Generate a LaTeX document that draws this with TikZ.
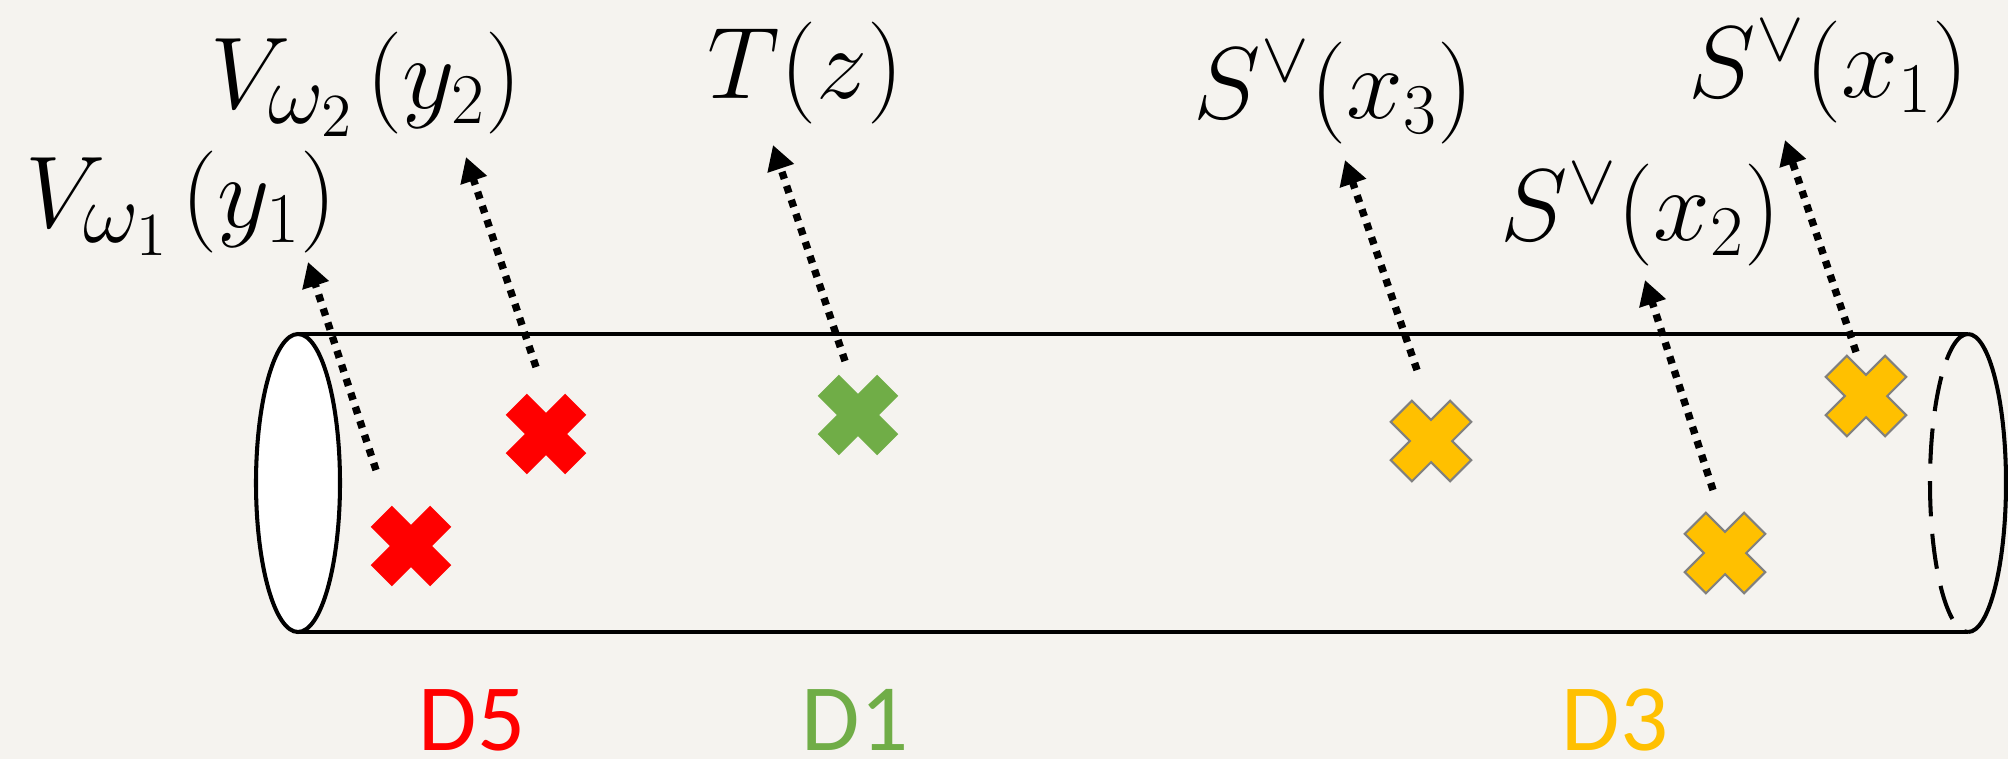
\documentclass[tikz,border=0pt]{standalone}
\usepackage{fix-cm}
\usepackage{fontspec}
\newfontfamily\calibri{Carlito}
\usetikzlibrary{arrows.meta}

\definecolor{paper}{RGB}{245,243,239}
\definecolor{dred}{RGB}{255,0,0}
\definecolor{dgreen}{RGB}{112,173,71}
\definecolor{dgold}{RGB}{255,192,0}
\definecolor{xedge}{RGB}{128,128,128}

\begin{document}
\begin{tikzpicture}[
    x=0.01cm, y=-0.01cm,
    lbl/.style={inner sep=0pt, anchor=base west, font=\fontsize{29}{35}\selectfont},
    dlbl/.style={inner sep=0pt, anchor=base, font=\calibri\fontsize{27}{32}\selectfont},
    pointer/.style={-{Triangle[length=7pt, width=7.5pt]}, line width=2.1pt,
                    dash pattern=on 2.1pt off 2.1pt},
    tube/.style={line width=1.15pt},
    xmark/.pic={\path[pic actions, rotate=45] (15,42) -- (15,15) -- (42,15) -- (42,-15)
        -- (15,-15) -- (15,-42) -- (-15,-42) -- (-15,-15) -- (-42,-15) -- (-42,15)
        -- (-15,15) -- (-15,42) -- cycle;}
]
\fill[paper] (0,0) rectangle (2008,759);
\useasboundingbox (0,0) rectangle (2008,759);

% the tube
\draw[tube] (298,334) -- (1968,334);
\draw[tube] (298,632) -- (1968,632);
\draw[tube, fill=white] (298,483) ellipse [x radius=42, y radius=149];
\draw[tube] (1968,334) arc[start angle=-90, end angle=90, x radius=38, y radius=149];
\draw[tube, dash pattern=on 10pt off 5pt] (1968,334) arc[start angle=-90, end angle=-270, x radius=38, y radius=149];

% operators
\node[lbl] (lv1) at (25,227) {$V_{\scalebox{1.2}{$\scriptstyle\omega_1$}}\mkern2mu(y_1)$};
\node[lbl] (lv2) at (210,108) {$V_{\scalebox{1.2}{$\scriptstyle\omega_2$}}\mkern2mu(y_2)$};
\node[lbl] (lt) at (707,98) {$T(z)$};
\node[lbl] (ls3) at (1193,118) {$S^{\vee}(x_3)$};
\node[lbl] (ls2) at (1500,240) {$S^{\vee}(x_2)$};
\node[lbl] (ls1) at (1688,97) {$S^{\vee}(x_1)$};

\coordinate (vfoot1) at (376,470);  \coordinate (vtip1) at (308,262);
\coordinate (vfoot2) at (536,367);  \coordinate (vtip2) at (466,157);
\coordinate (tfoot) at (845,361);   \coordinate (ttip) at (773,145);
\coordinate (sfoot3) at (1417,370); \coordinate (stip3) at (1345,160);
\coordinate (sfoot2) at (1713,490); \coordinate (stip2) at (1645,280);
\coordinate (sfoot1) at (1856,352); \coordinate (stip1) at (1785,140);

\draw[pointer] (vfoot1) -- (vtip1);
\draw[pointer] (vfoot2) -- (vtip2);
\draw[pointer] (tfoot) -- (ttip);
\draw[pointer] (sfoot3) -- (stip3);
\draw[pointer] (sfoot2) -- (stip2);
\draw[pointer] (sfoot1) -- (stip1);

% insertions
\pic[fill=dred] at (411,546) {xmark};
\pic[fill=dred] at (546,434) {xmark};
\pic[fill=dgreen] at (858,415) {xmark};
\pic[fill=dgold, draw=xedge, line width=0.6pt] at (1431,441) {xmark};
\pic[fill=dgold, draw=xedge, line width=0.6pt] at (1725,553) {xmark};
\pic[fill=dgold, draw=xedge, line width=0.6pt] at (1866,396) {xmark};

\node[dlbl, text=dred] (d5) at (472,750) {D5};
\node[dlbl, text=dgreen] (d1) at (855,750) {D1};
\node[dlbl, text=dgold] (d3) at (1615,750) {D3};
\end{tikzpicture}
\end{document}
